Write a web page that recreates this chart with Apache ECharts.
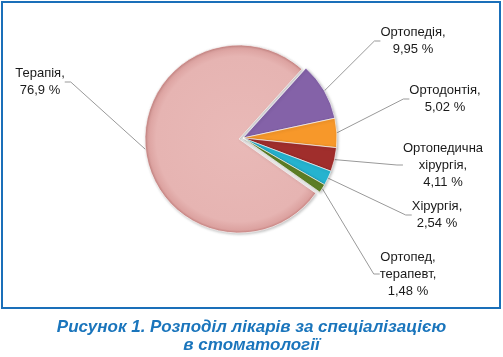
<!DOCTYPE html>
<html><head><meta charset="utf-8">
<script src="https://cdn.jsdelivr.net/npm/echarts@6/dist/echarts.min.js"></script>
<style>html,body{margin:0;padding:0;background:#fff}#c{width:503px;height:357px}</style>
</head><body><div id="c"></div>
<script>
const categories = ['Ортопедія', 'Ортодонтія', 'Ортопедична\nхірургія', 'Хірургія', 'Ортопед,\nтерапевт', 'Терапія'];
const values = [9.95, 5.02, 4.11, 2.54, 1.48, 76.9];
const colors = ['#8462a8', '#f7982a', '#a02e2c', '#25b3cf', '#5d7e25', '#e7b5b3'];
const labelPos = [[413, 41], [445, 99], [443, 165], [437, 215], [408, 274], [40, 82]];
const titleText = 'Рисунок 1. Розподіл лікарів за спеціалізацією\nв стоматології';

const cx = 239, cy = 139, R = 94;
const explode = [4, -1];
const chart = echarts.init(document.getElementById('c'), null, {renderer: 'canvas'});

function makeData(showMain) {
  return categories.map((n, i) => {
    const isMain = i === 5;
    const visible = showMain === isMain;
    const o = {name: n, value: values[i]};
    if (!visible) {
      o.itemStyle = {color: 'rgba(0,0,0,0)', borderWidth: 0, shadowBlur: 0, shadowColor: 'rgba(0,0,0,0)'};
      o.label = {show: false};
      o.labelLine = {show: false};
    } else {
      o.itemStyle = {color: isMain ? {type: 'radial', x: cx, y: cy, r: R, global: true,
        colorStops: [{offset: 0, color: '#e9b9b7'}, {offset: 0.88, color: '#e6b4b2'}, {offset: 0.97, color: '#dca2a0'}, {offset: 1, color: '#c98482'}]}
        : colors[i]};
    }
    return o;
  });
}
function series(showMain, center) {
  return {
    type: 'pie',
    center: center,
    radius: R,
    startAngle: 48,
    clockwise: true,
    avoidLabelOverlap: false,
    silent: true,
    itemStyle: {borderColor: 'rgba(255,255,255,0.8)', borderWidth: 0.8, shadowColor: 'rgba(0,0,0,0.25)', shadowBlur: 3, shadowOffsetX: 1, shadowOffsetY: 1},
    label: {
      show: true, position: 'outside',
      fontFamily: 'Liberation Sans', fontSize: 13, color: '#1a1a1a', lineHeight: 17, align: 'center',
      formatter: p => p.name + ',\n' + String(p.value).replace('.', ',') + ' %'
    },
    labelLine: {show: true, length: 10, length2: 6, lineStyle: {color: '#999', width: 1}},
    labelLayout: p => {
      const q = labelPos[p.dataIndex];
      return {x: q[0], y: q[1], align: 'center', verticalAlign: 'middle'};
    },
    emphasis: {disabled: true},
    data: makeData(showMain)
  };
}
chart.setOption({
  animation: false,
  title: {
    text: titleText, left: 'center', top: 313,
    textStyle: {fontFamily: 'Liberation Sans', fontSize: 17, fontWeight: 'bold', fontStyle: 'italic', color: '#1a75bc', lineHeight: 18}
  },
  graphic: [{type: 'rect', shape: {x: 2, y: 2, width: 498, height: 306}, style: {fill: 'none', stroke: '#1a6fb9', lineWidth: 2}, z: 10}],
  series: [series(true, [cx, cy]), series(false, [cx + explode[0], cy + explode[1]])]
});
</script></body></html>
